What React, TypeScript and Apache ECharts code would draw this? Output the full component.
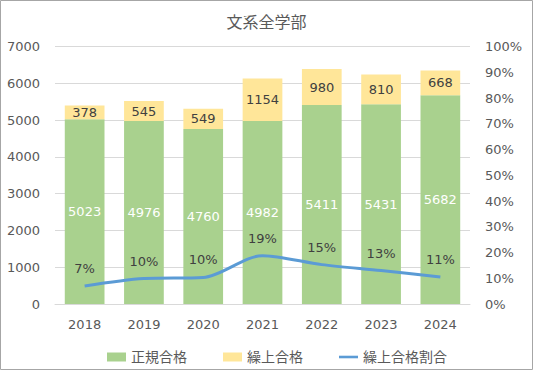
import React, { useEffect, useRef } from "react";
import * as echarts from "echarts";

const years = ["2018", "2019", "2020", "2021", "2022", "2023", "2024"];
const regular = [5023, 4976, 4760, 4982, 5411, 5431, 5682];
const waitlist = [378, 545, 549, 1154, 980, 810, 668];
const waitRatio = [0.07, 0.099, 0.103, 0.188, 0.153, 0.13, 0.1052];
const leftTicks = [0, 1000, 2000, 3000, 4000, 5000, 6000, 7000];

const FONT = "'DejaVu Sans', 'Noto Sans CJK JP', sans-serif";
const TXT = "#595959";

export default function App() {
  const ref = useRef<HTMLDivElement>(null);
  useEffect(() => {
    if (!ref.current) return;
    const chart = echarts.init(ref.current, undefined, { renderer: "svg" });
    chart.setOption({
      animation: false,
      backgroundColor: "#ffffff",
      textStyle: { fontFamily: FONT },
      title: {
        text: "文系全学部",
        left: "center",
        top: 9,
        textStyle: { fontFamily: FONT, fontSize: 16, fontWeight: "normal", color: TXT },
      },
      graphic: [
        {
          type: "rect",
          shape: { x: 0.5, y: 0.5, width: 532, height: 369 },
          style: { fill: "none", stroke: "#a6a6a6", lineWidth: 1 },
          silent: true,
        },
      ],
      grid: { left: 55, right: 63, top: 46.7, bottom: 66 },
      legend: {
        top: 345,
        left: 102,
        itemWidth: 19,
        itemHeight: 9,
        itemGap: 36,
        textStyle: { fontFamily: FONT, fontSize: 14, color: TXT },
        data: [
          { name: "正規合格", icon: "rect" },
          { name: "繰上合格", icon: "rect" },
          { name: "繰上合格割合", icon: "path://M0,0H22V3H0Z" },
        ],
      },
      xAxis: {
        type: "category",
        data: years,
        axisLine: { show: true, lineStyle: { color: "#d9d9d9" } },
        axisTick: { show: false },
        axisLabel: { color: TXT, fontSize: 13, margin: 14, fontFamily: FONT },
      },
      yAxis: [
        {
          type: "value",
          min: leftTicks[0],
          max: leftTicks[leftTicks.length - 1],
          interval: 1000,
          axisLine: { show: false },
          axisTick: { show: false },
          splitLine: { lineStyle: { color: "#d9d9d9" } },
          axisLabel: {
            color: TXT,
            fontSize: 13,
            margin: 15,
            fontFamily: FONT,
            formatter: (v: number) => String(v),
          },
        },
        {
          type: "value",
          min: 0,
          max: 1,
          interval: 0.1,
          axisLine: { show: false },
          axisTick: { show: false },
          splitLine: { show: false },
          axisLabel: {
            color: TXT,
            fontSize: 13,
            margin: 15,
            fontFamily: FONT,
            formatter: (v: number) => Math.round(v * 100) + "%",
          },
        },
      ],
      series: [
        {
          name: "正規合格",
          type: "bar",
          stack: "total",
          data: regular,
          barCategoryGap: "33%",
          itemStyle: { color: "#a9d18e" },
          label: {
            show: true,
            position: "inside",
            color: "#ffffff",
            fontSize: 13,
            fontFamily: FONT,
          },
        },
        {
          name: "繰上合格",
          type: "bar",
          stack: "total",
          data: waitlist,
          itemStyle: { color: "#ffe699" },
          label: {
            show: true,
            position: "inside",
            color: "#404040",
            fontSize: 13,
            fontFamily: FONT,
          },
        },
        {
          name: "繰上合格割合",
          type: "line",
          yAxisIndex: 1,
          data: waitRatio,
          smooth: 0.3,
          symbol: "circle",
          symbolSize: 0,
          showSymbol: true,
          lineStyle: { color: "#5b9bd5", width: 3 },
          itemStyle: { color: "#5b9bd5" },
          label: {
            show: true,
            position: "top",
            distance: 11,
            color: "#404040",
            fontSize: 13,
            fontFamily: FONT,
            formatter: (p: any) => Math.round(p.value * 100) + "%",
          },
          z: 5,
        },
      ],
    });
    return () => chart.dispose();
  }, []);
  return (
    <div
      ref={ref}
      style={{ position: "absolute", left: 0, top: 0, width: 533, height: 370 }}
    />
  );
}
